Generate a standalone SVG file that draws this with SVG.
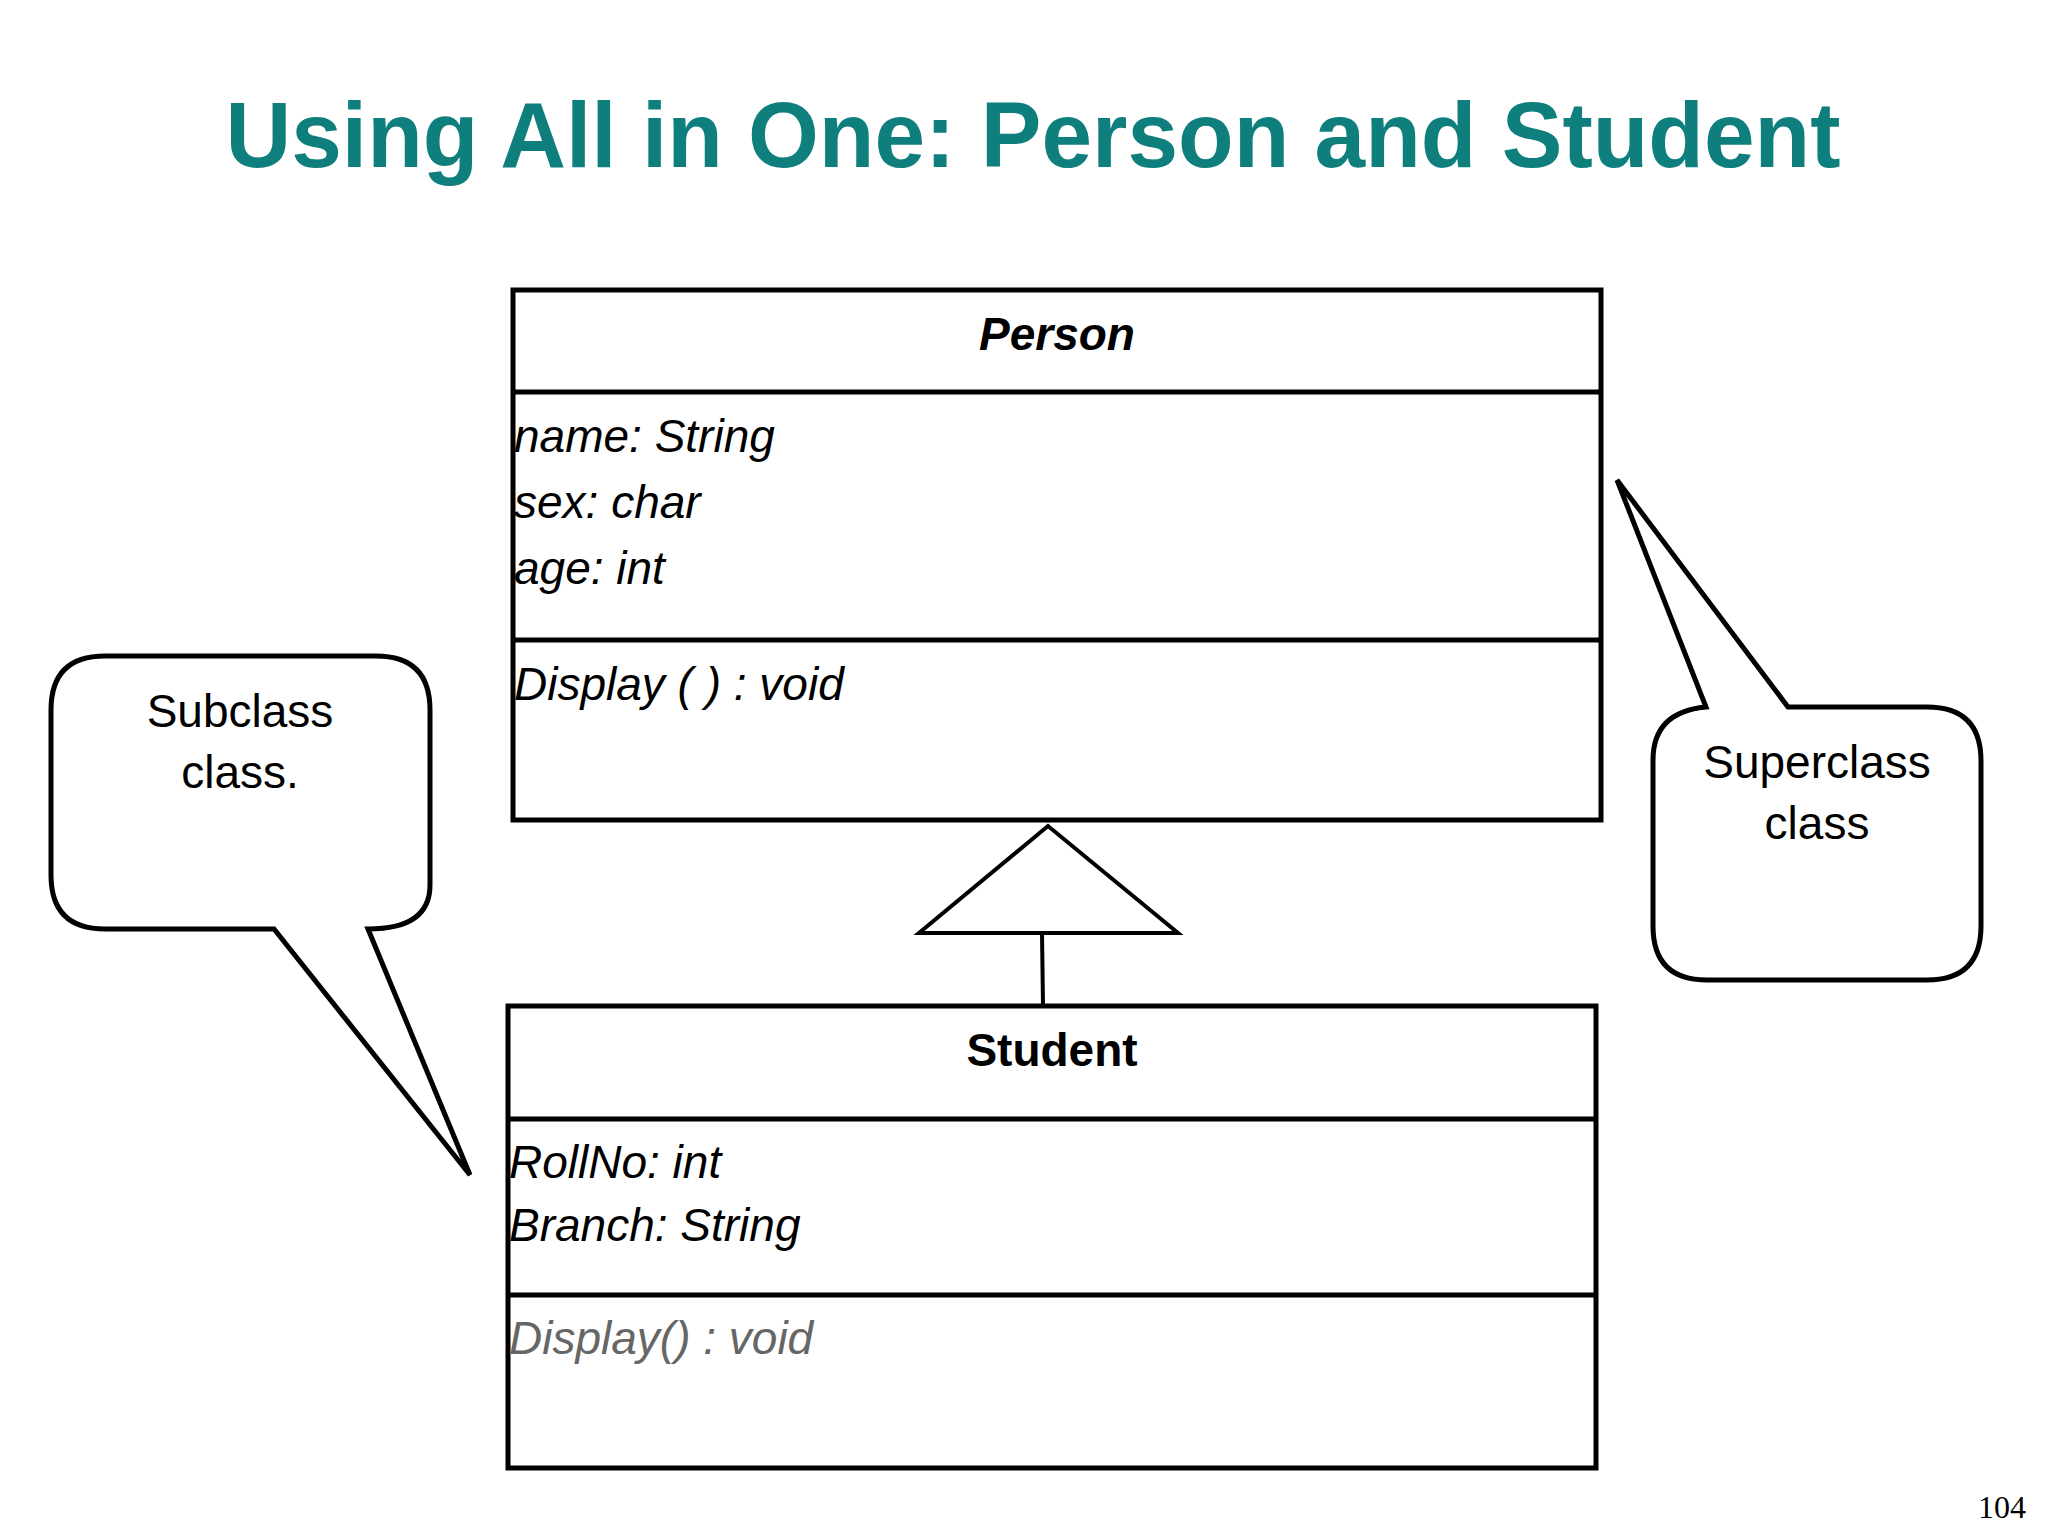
<svg xmlns="http://www.w3.org/2000/svg" width="2048" height="1536" viewBox="0 0 2048 1536">
<style>
.b{fill:#fff;stroke:#000;stroke-width:5}
.t{font-family:"Liberation Sans",Arial,sans-serif;font-size:46px;fill:#000}
.i{font-style:italic}
</style>
<rect width="2048" height="1536" fill="#fff"/>
<text x="1033" y="167" text-anchor="middle" font-family="Liberation Sans,Arial,sans-serif" font-weight="bold" font-size="92" fill="#0e7f7c" textLength="1615" lengthAdjust="spacingAndGlyphs">Using All in One: Person and Student</text>
<g id="person">
<rect class="b" x="513" y="290" width="1088" height="530"/>
<line x1="513" y1="392" x2="1601" y2="392" stroke="#000" stroke-width="5"/>
<line x1="513" y1="640" x2="1601" y2="640" stroke="#000" stroke-width="5"/>
<text class="t i" x="1057" y="350" text-anchor="middle" font-weight="bold">Person</text>
<text class="t i" x="514" y="452">name: String</text>
<text class="t i" x="514" y="518">sex: char</text>
<text class="t i" x="514" y="584">age: int</text>
<text class="t i" x="514" y="700">Display ( ) : void</text>
</g>
<g id="student">
<rect class="b" x="508" y="1006" width="1088" height="462"/>
<line x1="508" y1="1119" x2="1596" y2="1119" stroke="#000" stroke-width="5"/>
<line x1="508" y1="1295" x2="1596" y2="1295" stroke="#000" stroke-width="5"/>
<text class="t" x="1052" y="1066" text-anchor="middle" font-weight="bold">Student</text>
<text class="t i" x="509" y="1178">RollNo: int</text>
<text class="t i" x="509" y="1241">Branch: String</text>
<text class="t i" x="509" y="1354" fill="#666" style="fill:#666">Display() : void</text>
</g>
<g id="connectors">
<line x1="1042" y1="933" x2="1043" y2="1005" stroke="#000" stroke-width="4"/>
<polygon points="1048,826 919,933 1178,933" fill="#fff" stroke="#000" stroke-width="4"/>
</g>
<g id="subclass-note">
<path class="b" d="M274 929 L105 929 Q51 929 51 875 L51 710 Q51 656 105 656 L376 656 Q430 656 430 710 L430 885 Q430 929 368 929 L470 1175 Z"/>
<text class="t" x="240" y="727" text-anchor="middle">Subclass</text>
<text class="t" x="240" y="788" text-anchor="middle">class.</text>
</g>
<g id="superclass-note">
<path class="b" d="M1706 707 Q1653 712 1653 760 L1653 926 Q1653 980 1707 980 L1927 980 Q1981 980 1981 926 L1981 761 Q1981 707 1927 707 L1788 707 L1617 480 Z"/>
<text class="t" x="1817" y="778" text-anchor="middle">Superclass</text>
<text class="t" x="1817" y="839" text-anchor="middle">class</text>
</g>
<text x="2026" y="1518" text-anchor="end" font-family="Liberation Serif,serif" font-size="32" fill="#000">104</text>
</svg>
